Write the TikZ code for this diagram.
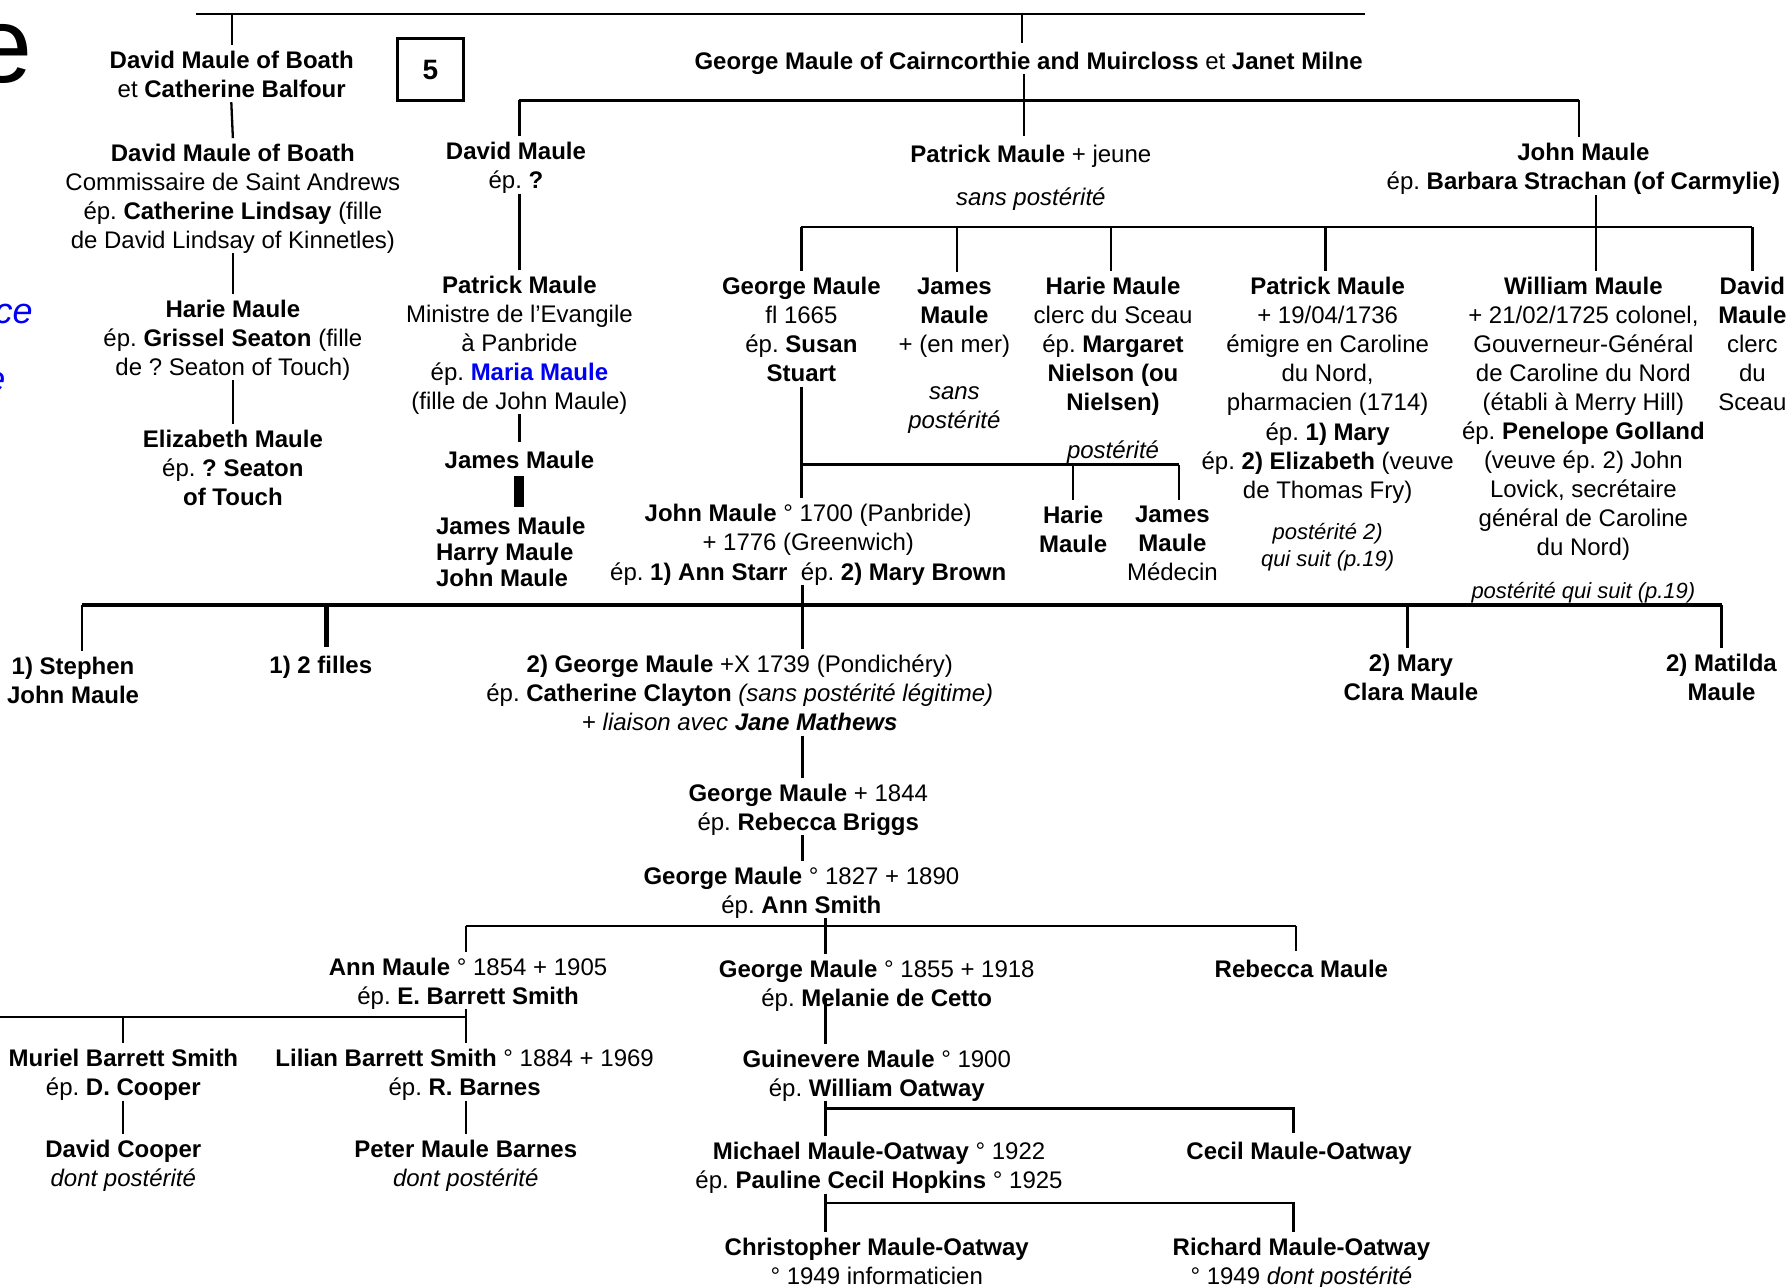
\documentclass[tikz,border=0pt]{standalone}
\usepackage{fontspec}
\setmainfont{Liberation Sans}
\definecolor{mblue}{RGB}{0,0,245}
\frenchspacing
\begin{document}
\begin{tikzpicture}[x=0.5708pt,y=-0.5708pt,
  every node/.style={font=\fontsize{12}{14.55}\selectfont},
  person/.style={align=center, inner sep=0pt, outer sep=3pt, yshift=-1.4pt,
    execute at begin node=\strut, execute at end node=\strut},
  note/.style={person, font=\fontsize{12}{14.55}\selectfont\itshape},
  smallnote/.style={person, font=\fontsize{11}{13.7}\selectfont\itshape},
  link/.style={line width=1.15pt},
  mainbus/.style={line width=1.7pt},
  up/.style={shorten <=-5pt},
]
\useasboundingbox (0,0) rectangle (1568,1127);
\clip (0,0) rectangle (1568,1127);

% fragments of neighbouring text at the left edge
\node[anchor=base east, inner sep=0pt, font=\fontsize{54}{60}\selectfont] (frgA) at (29,72) {e};
\node[anchor=base east, inner sep=0pt, text=mblue, font=\fontsize{18}{20}\selectfont\itshape] (frgB) at (29,283) {ce};
\node[anchor=base east, inner sep=0pt, text=mblue, font=\fontsize{18}{20}\selectfont\itshape] (frgC) at (5,343) {e};

% page number box
\node[draw, line width=1.4pt, minimum width=33pt, minimum height=31pt, inner sep=0pt,
  font=\fontsize{14}{16}\selectfont\bfseries] (five) at (377,61) {5};

% ---------- people ----------
\node[person] (dmbA) at (203,66.4) {\textbf{David Maule of Boath}\\et \textbf{Catherine Balfour}};
\node[person] (gmc) at (901,53.4) {\textbf{George Maule of Cairncorthie and Muircloss} et \textbf{Janet Milne}};

\node[person] (dmbB) at (204,173.4) {\textbf{David Maule of Boath}\\Commissaire\ de\ Saint\ Andrews\\ép. \textbf{Catherine Lindsay} (fille\\de David Lindsay of Kinnetles)};
\node[person] (hmA) at (204,297.4) {\textbf{Harie Maule}\\ép. \textbf{Grissel Seaton} (fille\\de ? Seaton of Touch)};
\node[person] (emA) at (204,411.4) {\textbf{Elizabeth Maule}\\ép. \textbf{? Seaton}\\\textbf{of Touch}};

\node[person] (dmC) at (452,146.4) {\textbf{David Maule}\\ép. \textbf{?}};
\node[person] (pmC) at (455,301.4) {\textbf{Patrick Maule}\\Ministre de l’Evangile\\à Panbride\\ép. \textcolor{mblue}{\textbf{Maria Maule}}\\(fille de John Maule)};
\node[person] (jmC) at (455,402.4) {\textbf{James Maule}};
\node[person, align=left, anchor=west, outer sep=0pt, font=\fontsize{12}{13.13}\selectfont\bfseries] (jmD) at (382,484.4) {James Maule\\Harry Maule\\John Maule};

\node[person] (pmE) at (903,134.4) {\textbf{Patrick Maule} + jeune};
\node[note] (spE) at (903,172.4) {sans postérité};
\node[person] (jmE) at (1387,147.4) {\textbf{John Maule}\\ép. \textbf{Barbara Strachan (of Carmylie)}};

\node[person] (gmF) at (702,290) {\textbf{George Maule}\\fl 1665\\ép. \textbf{Susan}\\\textbf{Stuart}};
\node[person] (jmF) at (836,277.4) {\textbf{James}\\\textbf{Maule}\\+ (en mer)};
\node[note] (spF) at (836,358) {sans\\postérité};
\node[person] (hmF) at (975,302.4) {\textbf{Harie Maule}\\clerc du Sceau\\ép. \textbf{Margaret}\\\textbf{Nielson (ou}\\\textbf{Nielsen)}};
\node[note] (poF) at (975,394.4) {postérité};
\node[person] (pmF) at (1163,341) {\textbf{Patrick Maule}\\+ 19/04/1736\\émigre en Caroline\\du Nord,\\pharmacien (1714)\\ép. \textbf{1) Mary}\\ép. \textbf{2) Elizabeth} (veuve\\de Thomas Fry)};
\node[smallnote] (qsF) at (1163,478.4) {postérité 2)\\qui suit (p.19)};
\node[person] (wmF) at (1387,366) {\textbf{William Maule}\\+ 21/02/1725 colonel,\\Gouverneur-Général\\de Caroline du Nord\\(établi à Merry Hill)\\ép. \textbf{Penelope Golland}\\(veuve ép. 2) John\\Lovick, secrétaire\\général de Caroline\\du Nord)};
\node[smallnote] (qsW) at (1387,517.4) {postérité qui suit (p.19)};
\node[person] (dmF) at (1535,302.4) {\textbf{David}\\\textbf{Maule}\\clerc\\du\\Sceau};

\node[person] (hmG) at (940,464.9) {\textbf{Harie}\\\textbf{Maule}};
\node[person] (jmG) at (1027,477.4) {\textbf{James}\\\textbf{Maule}\\Médecin};
\node[person] (jmH) at (708,476.4) {\textbf{John Maule} ° 1700 (Panbride)\\+ 1776 (Greenwich)\\ép. \textbf{1) Ann Starr}\ \ ép. \textbf{2) Mary Brown}};

\node[person] (sjm) at (64,597) {\textbf{1) Stephen}\\\textbf{John Maule}};
\node[person] (fil) at (281,582.4) {\textbf{1) 2 filles}};
\node[person] (gmI) at (648,608.4) {\textbf{2) George Maule} +X 1739 (Pondichéry)\\ép. \textbf{Catherine Clayton} \textit{(sans postérité légitime)}\\+ \textit{liaison avec \textbf{Jane Mathews}}};
\node[person] (mcm) at (1236,595) {\textbf{2) Mary}\\\textbf{Clara Maule}};
\node[person] (mtm) at (1508,595) {\textbf{2) Matilda}\\\textbf{Maule}};

\node[person] (gmJ) at (708,708.4) {\textbf{George Maule} + 1844\\ép. \textbf{Rebecca Briggs}};
\node[person] (gmK) at (702,781.4) {\textbf{George Maule} ° 1827 + 1890\\ép. \textbf{Ann Smith}};

\node[person] (amL) at (410,861) {\textbf{Ann Maule} ° 1854 + 1905\\ép. \textbf{E. Barrett Smith}};
\node[person] (gmL) at (768,863) {\textbf{George Maule} ° 1855 + 1918\\ép. \textbf{Melanie de Cetto}};
\node[person] (rmL) at (1140,848.4) {\textbf{Rebecca Maule}};

\node[person] (mbs) at (108,941) {\textbf{Muriel Barrett Smith}\\ép. \textbf{D. Cooper}};
\node[person] (dco) at (108,1020) {\textbf{David Cooper}\\\textit{dont postérité}};
\node[person] (lbs) at (407,941) {\textbf{Lilian Barrett Smith} ° 1884 + 1969\\ép. \textbf{R. Barnes}};
\node[person] (pmb) at (408,1020) {\textbf{Peter Maule Barnes}\\\textit{dont postérité}};

\node[person] (gvm) at (768,941.4) {\textbf{Guinevere Maule} ° 1900\\ép. \textbf{William Oatway}};
\node[person] (mmo) at (770,1022.4) {\textbf{Michael Maule-Oatway} ° 1922\\ép. \textbf{Pauline Cecil Hopkins} ° 1925};
\node[person] (cmo) at (1138,1008.4) {\textbf{Cecil Maule-Oatway}};
\node[person] (cho) at (768,1106.4) {\textbf{Christopher Maule-Oatway}\\° 1949 informaticien};
\node[person] (rmo) at (1140,1106.4) {\textbf{Richard Maule-Oatway}\\° 1949 \textit{dont postérité}};

% ---------- junction points of the family lines ----------
\coordinate (topL) at (172,12);  \coordinate (topR) at (1196,12);
\coordinate (topA) at (203,12);  \coordinate (topB) at (895,12);
\coordinate (gL) at (455,88);    \coordinate (gM) at (897,88);   \coordinate (gR) at (1383,88);
\coordinate (hL) at (702,199);   \coordinate (hB) at (838,199);  \coordinate (hC) at (973,199);
\coordinate (hD) at (1161,199);  \coordinate (hM) at (1398,199); \coordinate (hR) at (1535,199);
\coordinate (iL) at (702,407);   \coordinate (iA) at (940,407);  \coordinate (iR) at (1033,407);
\coordinate (kL) at (72,530);    \coordinate (kA) at (286,530);  \coordinate (kM) at (703,530);
\coordinate (kB) at (1233,530);  \coordinate (kR) at (1508,530);
\coordinate (lL) at (408,811);   \coordinate (lM) at (723,811);  \coordinate (lR) at (1135,811);
\coordinate (mL) at (0,891);     \coordinate (mA) at (108,891);  \coordinate (mR) at (408,891);
\coordinate (nL) at (723,971);   \coordinate (nR) at (1133,971);
\coordinate (oL) at (723,1054);  \coordinate (oR) at (1133,1054);

% ---------- family lines ----------
\draw[link] (topL) -- (topR);
\draw[link] (topA) -- (topA |- dmbA.north);
\draw[link] (topB) -- (topB |- gmc.north);

\draw[link, up] (dmbA.south) -- (dmbB.north);
\draw[link, up] (dmbB.south) -- (hmA.north);
\draw[link, up] (hmA.south) -- (emA.north);

\draw[link] (gL) -- (gR);
\draw[link, up] (gmc.south -| gM) -- (gM |- pmE.north);
\draw[link] (gL) -- (gL |- dmC.north);
\draw[link] (gR) -- (gR |- jmE.north);

\draw[link, up] (pmC.north |- dmC.south) -- (pmC.north);
\draw[link, up] (pmC.south) -- (jmC.north);
\draw[line width=5pt, shorten <=-3.4pt, shorten >=5pt] (jmC.south) -- (jmC.south |- jmD.north);

\draw[link] (hL) -- (hR);
\draw[link, up] (jmE.south -| hM) -- (hM |- wmF.north);
\draw[link] (hL) -- (hL |- gmF.north);
\draw[link] (hB) -- (hB |- jmF.north);
\draw[link] (hC) -- (hC |- hmF.north);
\draw[link] (hD) -- (hD |- pmF.north);
\draw[link] (hR) -- (hR |- dmF.north);

\draw[link] (iL) -- (iR);
\draw[link, up] (gmF.south -| iL) -- (iL |- jmH.north);
\draw[link] (iA) -- (iA |- hmG.north);
\draw[link] (iR) -- (iR |- jmG.north);

\draw[mainbus] (kL) -- (kR);
\draw[link, up] (jmH.south -| kM) -- (kM |- gmI.north);
\draw[link] (kL) -- (kL |- sjm.north);
\draw[line width=2.4pt] (kA) -- (kA |- fil.north);
\draw[link] (kB) -- (kB |- mcm.north);
\draw[link] (kR) -- (kR |- mtm.north);

\draw[link, up] (gmI.south -| kM) -- (kM |- gmJ.north);
\draw[link, up] (gmJ.south -| kM) -- (kM |- gmK.north);

\draw[link] (lL) -- (lR);
\draw[link, up] (gmK.south -| lM) -- (lM |- gmL.north);
\draw[link] (lL) -- (lL |- amL.north);
\draw[link] (lR) -- (lR |- rmL.north);

\draw[link] (mL) -- (mR);
\draw[link, up] (amL.south -| mR) -- (mR |- lbs.north);
\draw[link] (mA) -- (mA |- mbs.north);
\draw[link, up] (mbs.south) -- (dco.north);
\draw[link, up] (pmb.north |- lbs.south) -- (pmb.north);

\draw[link, shorten <=-12pt] (gmL.south -| lM) -- (lM |- gvm.north);
\draw[link, up] (gvm.south -| nL) -- (nL |- mmo.north);
\draw[link] (nL) -- (nR) -- (nR |- cmo.north);
\draw[link, up] (mmo.south -| oL) -- (oL |- cho.north);
\draw[link] (oL) -- (oR) -- (oR |- rmo.north);
\end{tikzpicture}
\end{document}
